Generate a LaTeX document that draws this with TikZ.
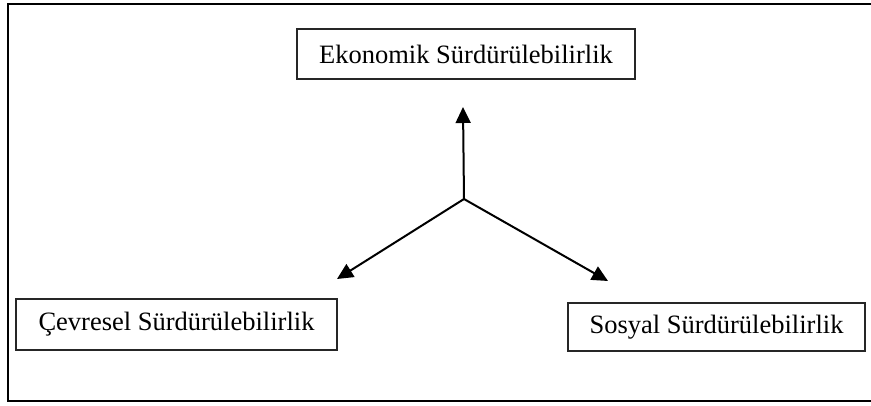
\documentclass[tikz,border=0pt]{standalone}
\usepackage{fontspec}
\setmainfont{Liberation Serif}
\usetikzlibrary{arrows.meta}
\begin{document}
\begin{tikzpicture}[x=1pt,y=-1pt,
  box/.style={draw=black!85,line width=1.3pt,inner sep=0pt,font=\fontsize{26.5}{30}\selectfont},
  arr/.style={line width=2pt,-{Triangle[length=16pt,width=15pt]}}]
\useasboundingbox (0,0) rectangle (871,405);
\draw[line width=2pt] (871,4) -- (8,4) -- (8,401) -- (871,401);
\node[box,minimum width=338pt,minimum height=50pt] (eko) at (466,54) {Ekonomik Sürdürülebilirlik};
\node[box,minimum width=321pt,minimum height=51pt] (cev) at (176.5,324.5) {Çevresel Sürdürülebilirlik};
\node[box,minimum width=297pt,minimum height=48pt] (sos) at (716.5,327) {Sosyal Sürdürülebilirlik};
\coordinate (c) at (464,199);
\coordinate (tu) at (463,107);
\coordinate (tl) at (337,279);
\coordinate (tr) at (608,281);
\draw[arr] (c) -- (tu);
\draw[arr] (c) -- (tl);
\draw[arr] (c) -- (tr);
\end{tikzpicture}
\end{document}
